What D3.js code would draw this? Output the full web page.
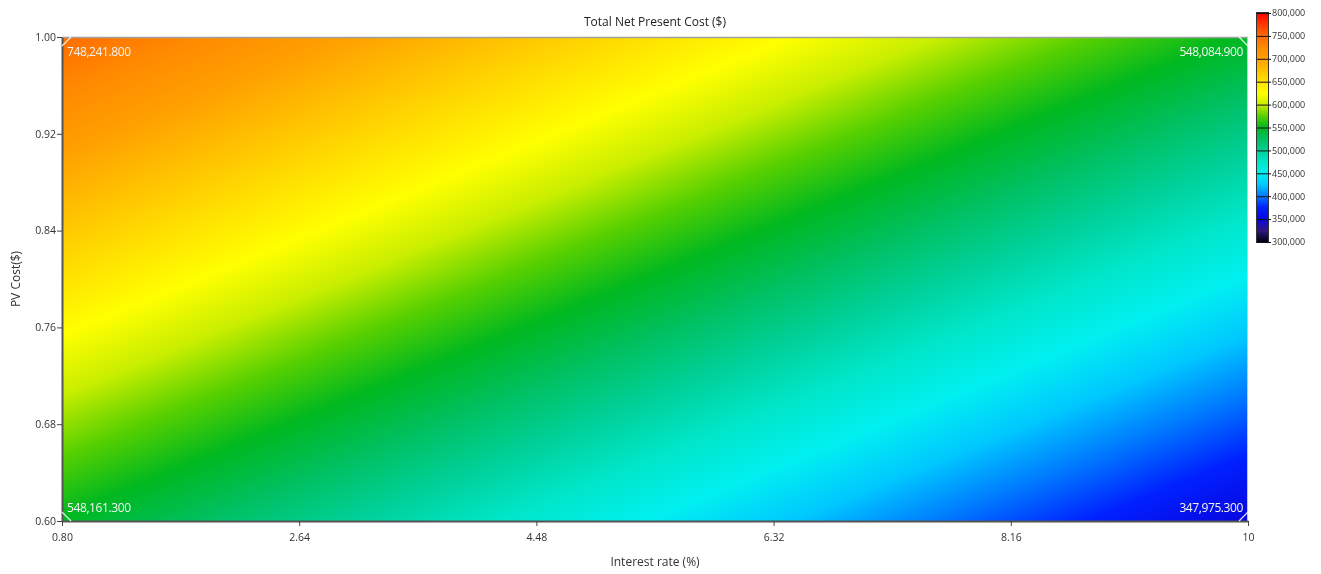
<!DOCTYPE html>
<html>
<head>
<meta charset="utf-8">
<script src="https://cdn.jsdelivr.net/npm/d3@7"></script>
<style>
  body { margin: 0; background: #fff; }
  #chart { position: relative; width: 1321px; height: 574px; }
  #chart canvas, #chart svg { position: absolute; left: 0; top: 0; }
  text { font-family: "Open Sans", "Noto Sans", sans-serif; }
</style>
</head>
<body>
<div id="chart"></div>
<script>
// Data ###############################################
var interestRate = [0.8, 10];          // x grid (%)
var pvCost = [0.6, 1.0];               // y grid
// NPC at grid nodes: rows = pvCost, cols = interestRate
var npcLow  = [548161.3, 347975.3];    // pvCost 0.60
var npcHigh = [748241.8, 548084.9];    // pvCost 1.00
var xTickValues = [0.8, 2.64, 4.48, 6.32, 8.16, 10];
var xTickLabels = ["0.80", "2.64", "4.48", "6.32", "8.16", "10"];
var yTickValues = [0.6, 0.68, 0.76, 0.84, 0.92, 1.0];
var legendTicks = [300000, 350000, 400000, 450000, 500000, 550000, 600000, 650000, 700000, 750000, 800000];

// Layout
var width = 1321, height = 574;
var plot = { left: 62, right: 1248, top: 37, bottom: 521 };
var bar = { left: 1257, right: 1268, top: 13, bottom: 242 };

var x = d3.scaleLinear().domain(d3.extent(interestRate)).range([plot.left, plot.right]);
var y = d3.scaleLinear().domain(d3.extent(pvCost)).range([plot.bottom, plot.top]);

// colour ramp like the legend
var color = d3.scaleLinear()
  .domain([300000, 325000, 350000, 375000, 400000, 425000, 450000, 475000, 500000, 525000, 550000,
           575000, 600000, 625000, 650000, 675000, 700000, 725000, 750000, 775000, 800000])
  .range(["#000010", "#301880", "#0808e0", "#0020ff", "#0078ff", "#00c8ff", "#00f0f0", "#00e6c8",
          "#00d098", "#00c060", "#00b820", "#58d000", "#c8ee00", "#ffff00", "#ffe000", "#ffc000",
          "#ffa000", "#ff8a00", "#ff6a00", "#ff3800", "#ff0000"])
  .clamp(true);

// bilinear surface between the grid nodes
function npcAt(ir, pv) {
  var tx = (ir - interestRate[0]) / (interestRate[1] - interestRate[0]);
  var ty = (pv - pvCost[0]) / (pvCost[1] - pvCost[0]);
  var bottom = npcLow[0] + (npcLow[1] - npcLow[0]) * tx;
  var top = npcHigh[0] + (npcHigh[1] - npcHigh[0]) * tx;
  return bottom + (top - bottom) * ty;
}

var chart = d3.select("#chart");

// Canvas for the surface #############################
var canvas = chart.append("canvas").attr("width", width).attr("height", height).node();
var ctx = canvas.getContext("2d");
var w = plot.right - plot.left, h = plot.bottom - plot.top;
var img = ctx.createImageData(w, h);
for (var j = 0; j < h; j++) {
  var pv = y.invert(plot.top + j + 0.5);
  for (var i = 0; i < w; i++) {
    var c = d3.rgb(color(npcAt(x.invert(plot.left + i + 0.5), pv)));
    var k = (j * w + i) * 4;
    img.data[k] = c.r; img.data[k + 1] = c.g; img.data[k + 2] = c.b; img.data[k + 3] = 255;
  }
}
ctx.putImageData(img, plot.left, plot.top);

// legend gradient
var bh = bar.bottom - bar.top;
for (var b = 0; b < bh; b++) {
  var v = 800000 - (b + 0.5) / bh * 500000;
  ctx.fillStyle = color(v);
  ctx.fillRect(bar.left, bar.top + b, bar.right - bar.left, 1);
}

// SVG overlay ########################################
var svg = chart.append("svg").attr("width", width).attr("height", height);

// frame
svg.append("line").attr("x1", plot.left).attr("x2", plot.right).attr("y1", plot.top + 0.5).attr("y2", plot.top + 0.5)
  .attr("stroke", "#a0a0a0").attr("stroke-width", 1.5);
svg.append("line").attr("x1", plot.right - 0.5).attr("x2", plot.right - 0.5).attr("y1", plot.top).attr("y2", plot.bottom)
  .attr("stroke", "#c8c8c8").attr("stroke-width", 1);

// axes
var xAxis = d3.axisBottom(x).tickValues(xTickValues).tickSize(5).tickSizeOuter(0)
  .tickFormat(function(d, i) { return xTickLabels[i]; });
var yAxis = d3.axisLeft(y).tickValues(yTickValues).tickSize(5).tickSizeOuter(0).tickFormat(d3.format(".2f"));

var gx = svg.append("g").attr("transform", "translate(0," + plot.bottom + ")").call(xAxis);
var gy = svg.append("g").attr("transform", "translate(" + plot.left + ",0)").call(yAxis);
[gx, gy].forEach(function(g) {
  g.select(".domain").attr("stroke", "#555").attr("stroke-width", 2);
  g.selectAll(".tick line").attr("stroke", "#444");
  g.selectAll(".tick text").attr("fill", "#333").attr("font-size", 10.5)
    .attr("font-family", "'Open Sans', sans-serif");
});
gx.selectAll(".tick text").attr("dy", "1.15em");
gy.selectAll(".tick text").attr("x", -6);

// titles
svg.append("text").attr("x", 655).attr("y", 26).attr("text-anchor", "middle")
  .attr("font-size", 12).attr("fill", "#222").text("Total Net Present Cost ($)");
svg.append("text").attr("x", 655).attr("y", 566).attr("text-anchor", "middle")
  .attr("font-size", 12).attr("fill", "#333").text("Interest rate (%)");
svg.append("text").attr("transform", "translate(20,279) rotate(-90)").attr("text-anchor", "middle")
  .attr("font-size", 12).attr("fill", "#333").text("PV Cost($)");

// corner values
var fmt = d3.format(",.3f");
var corners = [
  { ir: interestRate[0], pv: pvCost[1], v: npcHigh[0], anchor: "start", dx: 5, dy: 19 },
  { ir: interestRate[1], pv: pvCost[1], v: npcHigh[1], anchor: "end", dx: -5, dy: 19 },
  { ir: interestRate[0], pv: pvCost[0], v: npcLow[0], anchor: "start", dx: 5, dy: -9 },
  { ir: interestRate[1], pv: pvCost[0], v: npcLow[1], anchor: "end", dx: -5, dy: -9 }
];
svg.selectAll(".corner").data(corners).enter().append("text")
  .attr("class", "corner")
  .attr("x", function(d) { return x(d.ir) + d.dx; })
  .attr("y", function(d) { return y(d.pv) + d.dy; })
  .attr("text-anchor", function(d) { return d.anchor; })
  .attr("font-size", 12).attr("fill", "#f4f4f4").attr("letter-spacing", -0.4)
  .text(function(d) { return fmt(d.v); });

// little corner triangles
svg.selectAll(".tri").data(corners).enter().append("path")
  .attr("class", "tri")
  .attr("d", function(d) {
    var cx = x(d.ir), cy = y(d.pv);
    var sx = d.anchor === "start" ? 1 : -1;
    var sy = d.dy > 0 ? 1 : -1;
    return "M" + cx + "," + (cy + sy * 9) + "L" + (cx + sx * 9) + "," + cy;
  })
  .attr("stroke", "#ffffff").attr("stroke-width", 1.3).attr("fill", "none").attr("opacity", 0.85);

// colour legend axis
var lz = d3.scaleLinear().domain([300000, 800000]).range([bar.bottom, bar.top]);
svg.append("rect").attr("x", bar.left - 0.5).attr("y", bar.top - 0.5)
  .attr("width", bar.right - bar.left + 1).attr("height", bar.bottom - bar.top + 1)
  .attr("fill", "none").attr("stroke", "#333");
var gl = svg.append("g").attr("transform", "translate(" + bar.right + ",0)")
  .call(d3.axisRight(lz).tickValues(legendTicks).tickSize(3).tickFormat(d3.format(",")));
gl.select(".domain").remove();
gl.selectAll(".tick line").attr("x1", -(bar.right - bar.left)).attr("stroke", "#111");
gl.selectAll(".tick text").attr("font-size", 9).attr("fill", "#333").attr("x", 4)
  .attr("font-family", "'Open Sans', sans-serif");
</script>
</body>
</html>
